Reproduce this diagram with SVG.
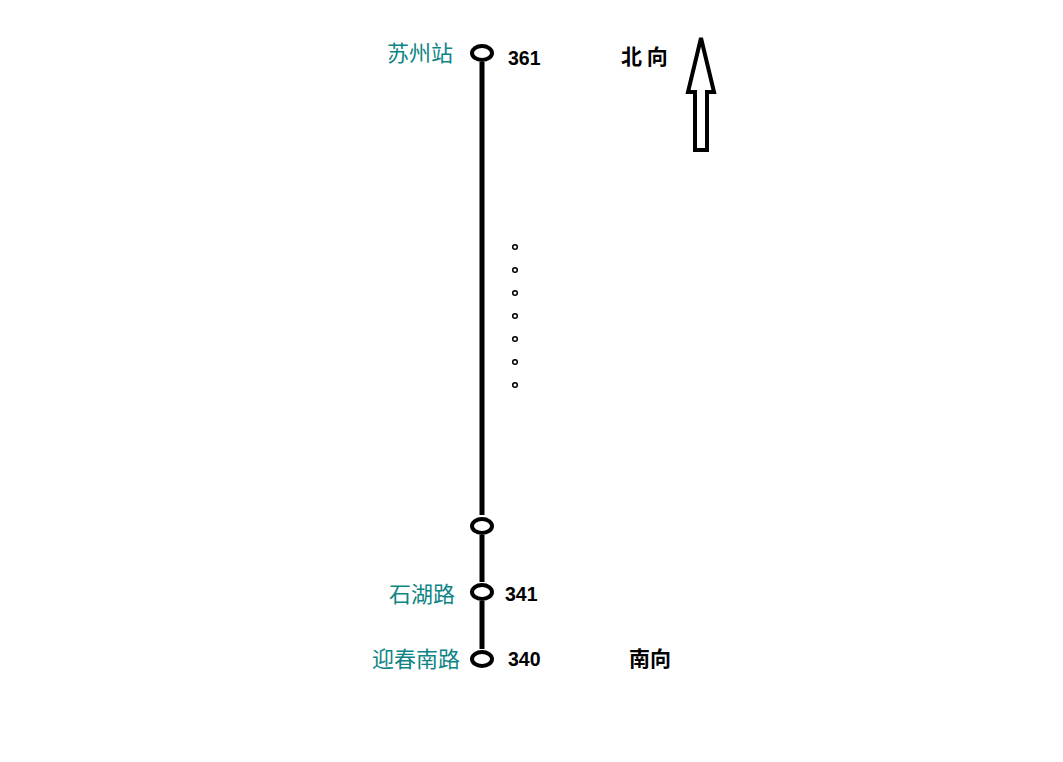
<svg xmlns="http://www.w3.org/2000/svg" width="1063" height="762" viewBox="0 0 1063 762">
<style>
.st{fill:none;stroke:#000;stroke-width:4}
.ln{stroke:#000;stroke-width:5}
.nm{font-family:"Noto Sans CJK SC",sans-serif;font-size:22px;fill:#0e8585}
.num{font-family:"Liberation Sans",Arial,sans-serif;font-size:19.5px;font-weight:bold;fill:#000}
.dir{font-family:"Noto Sans CJK SC",sans-serif;font-size:21px;font-weight:bold;fill:#000}
.dot{fill:none;stroke:#000;stroke-width:1.5}
</style>
<rect width="1063" height="762" fill="#fff"/>
<g id="connectors">
<line class="ln" x1="482" y1="62" x2="482" y2="515"/>
<line class="ln" x1="482" y1="535" x2="482" y2="582"/>
<line class="ln" x1="482" y1="601" x2="482" y2="649"/>
</g>
<g id="n361">
<ellipse class="st" cx="482" cy="53" rx="10" ry="7"/>
<text class="nm" x="387" y="61">苏州站</text>
<text class="num" x="508" y="65">361</text>
</g>
<g id="nmid">
<ellipse class="st" cx="482" cy="526" rx="10" ry="7"/>
</g>
<g id="n341">
<ellipse class="st" cx="482" cy="592" rx="10" ry="7"/>
<text class="nm" x="389" y="602">石湖路</text>
<text class="num" x="505" y="601">341</text>
</g>
<g id="n340">
<ellipse class="st" cx="482" cy="659" rx="10" ry="7"/>
<text class="nm" x="372" y="667">迎春南路</text>
<text class="num" x="508" y="666">340</text>
</g>
<g id="dots">
<circle class="dot" cx="515" cy="247" r="2.3"/>
<circle class="dot" cx="515" cy="270" r="2.3"/>
<circle class="dot" cx="515" cy="293" r="2.3"/>
<circle class="dot" cx="515" cy="316" r="2.3"/>
<circle class="dot" cx="515" cy="339" r="2.3"/>
<circle class="dot" cx="515" cy="362" r="2.3"/>
<circle class="dot" cx="515" cy="385" r="2.3"/>
</g>
<g id="north">
<text class="dir" x="621" y="64">北 向</text>
<polygon class="st" points="701,38 714,92 707,92 707,150 695,150 695,92 688,92"/>
</g>
<g id="south">
<text class="dir" x="629" y="666">南向</text>
</g>
</svg>
